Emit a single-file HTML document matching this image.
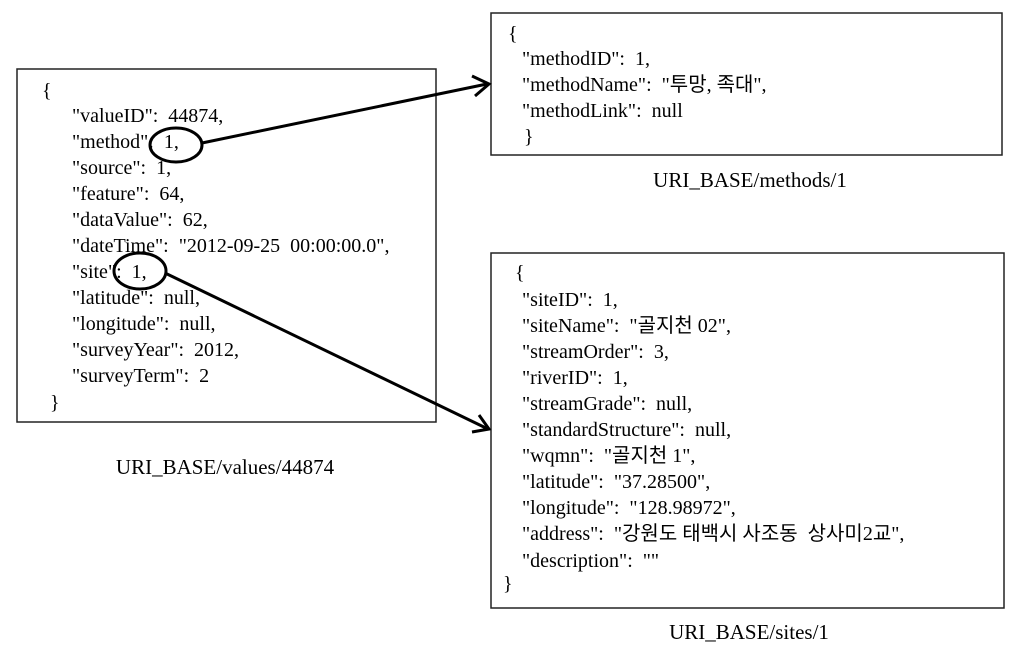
<!DOCTYPE html>
<html><head><meta charset="utf-8"><style>
html,body{margin:0;padding:0;background:#fff;}
svg text{font-family:"Liberation Serif","Noto Sans CJK KR",serif;font-size:20px;fill:#000;white-space:pre;}
svg text.l{font-size:21px;}
</style></head><body>
<svg width="1024" height="654" viewBox="0 0 1024 654" xmlns="http://www.w3.org/2000/svg" xml:space="preserve">
<rect x="17" y="69" width="419" height="353" fill="none" stroke="#222" stroke-width="1.5"/>
<rect x="491" y="13" width="511" height="142" fill="none" stroke="#222" stroke-width="1.5"/>
<rect x="491" y="253" width="513" height="355" fill="none" stroke="#222" stroke-width="1.5"/>

<text x="42" y="97">{</text>
<text x="72" y="122">"valueID":  44874,</text>
<text x="72" y="148">"method":  1,</text>
<text x="72" y="174">"source":  1,</text>
<text x="72" y="200">"feature":  64,</text>
<text x="72" y="226">"dataValue":  62,</text>
<text x="72" y="252">"dateTime":  "2012-09-25  00:00:00.0",</text>
<text x="72" y="278">"site":  1,</text>
<text x="72" y="304">"latitude":  null,</text>
<text x="72" y="330">"longitude":  null,</text>
<text x="72" y="356">"surveyYear":  2012,</text>
<text x="72" y="382">"surveyTerm":  2</text>
<text x="50" y="409">}</text>
<text class="l" x="225" y="474" text-anchor="middle">URI_BASE/values/44874</text>

<text x="508" y="40">{</text>
<text x="522" y="65">"methodID":  1,</text>
<text x="522" y="91">"methodName":  "투망, 족대",</text>
<text x="522" y="117">"methodLink":  null</text>
<text x="524" y="143">}</text>
<text class="l" x="750" y="187" text-anchor="middle">URI_BASE/methods/1</text>

<text x="515" y="279">{</text>
<text x="522" y="306">"siteID":  1,</text>
<text x="522" y="332">"siteName":  "골지천 02",</text>
<text x="522" y="358">"streamOrder":  3,</text>
<text x="522" y="384">"riverID":  1,</text>
<text x="522" y="410">"streamGrade":  null,</text>
<text x="522" y="436">"standardStructure":  null,</text>
<text x="522" y="462">"wqmn":  "골지천 1",</text>
<text x="522" y="488">"latitude":  "37.28500",</text>
<text x="522" y="514">"longitude":  "128.98972",</text>
<text x="522" y="540">"address":  "강원도 태백시 사조동  상사미2교",</text>
<text x="522" y="567">"description":  ""</text>
<text x="503" y="590">}</text>
<text class="l" x="749" y="639" text-anchor="middle">URI_BASE/sites/1</text>

<ellipse cx="176" cy="145" rx="26" ry="17" fill="none" stroke="#000" stroke-width="3"/>
<ellipse cx="140" cy="271" rx="26" ry="18" fill="none" stroke="#000" stroke-width="3"/>
<line x1="202" y1="143" x2="487" y2="84" stroke="#000" stroke-width="3"/>
<polyline points="472,76 489,84 475,96" fill="none" stroke="#000" stroke-width="3"/>
<line x1="165" y1="273" x2="488" y2="429" stroke="#000" stroke-width="3"/>
<polyline points="479,415 489,429 472,432" fill="none" stroke="#000" stroke-width="3"/>
</svg>
</body></html>
